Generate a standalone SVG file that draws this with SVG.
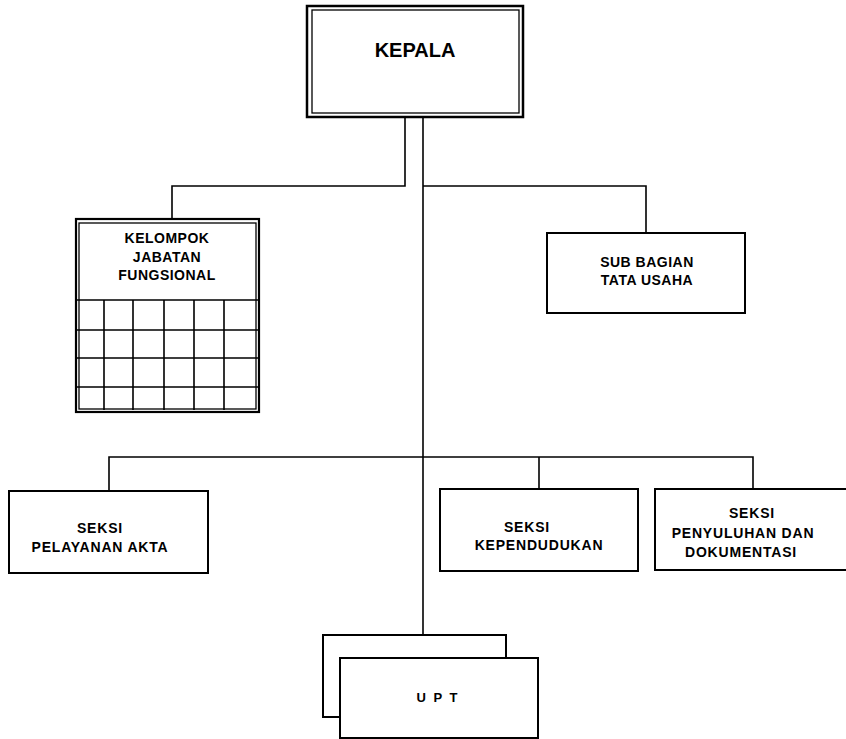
<svg xmlns="http://www.w3.org/2000/svg" width="846" height="739" viewBox="0 0 846 739">
<style>
.box{fill:#fff;stroke:#000;stroke-width:2}
.thin{fill:none;stroke:#000;stroke-width:1.3}
.ln{fill:none;stroke:#000;stroke-width:1.6}
text{font-family:"Liberation Sans",Arial,sans-serif;font-weight:bold;fill:#000;text-anchor:middle}
.t{font-size:14px;letter-spacing:0.8px}
</style>
<rect width="846" height="739" fill="#fff"/>
<g id="connectors">
<path class="ln" d="M405 117 V186 H172 V219"/>
<path class="ln" d="M423 117 V635"/>
<path class="ln" d="M423 186 H646 V233"/>
<path class="ln" d="M109 491 V457 H753 V489"/>
<path class="ln" d="M539 457 V489"/>
</g>
<g id="kepala">
<rect x="307" y="6" width="216" height="111" fill="#fff" stroke="#000" stroke-width="2.5"/>
<rect x="312" y="10" width="207" height="103" class="thin"/>
<text x="415" y="57" style="font-size:20px">KEPALA</text>
</g>
<g id="kelompok">
<rect x="76" y="219" width="183" height="193" fill="#fff" stroke="#000" stroke-width="2.2"/>
<rect x="79" y="223" width="177" height="186" class="thin"/>
<path class="ln" d="M77 300 H258 M77 330 H258 M77 358 H258 M77 387 H258 M104 300 V410 M133 300 V410 M164 300 V410 M194 300 V410 M224 300 V410"/>
<text x="167" y="243" style="font-size:14px;letter-spacing:0.5px">KELOMPOK</text>
<text x="167" y="262" style="font-size:14px;letter-spacing:0.5px">JABATAN</text>
<text x="167" y="280" style="font-size:14px;letter-spacing:0.5px">FUNGSIONAL</text>
</g>
<g id="subbagian">
<rect x="547" y="233" width="198" height="80" class="box"/>
<text x="647" y="267" class="t" style="letter-spacing:0.5px">SUB BAGIAN</text>
<text x="647" y="285" class="t" style="letter-spacing:0.5px">TATA USAHA</text>
</g>
<g id="pelayanan">
<rect x="9" y="491" width="199" height="82" class="box"/>
<text x="100" y="533" class="t">SEKSI</text>
<text x="100" y="552" class="t">PELAYANAN AKTA</text>
</g>
<g id="kependudukan">
<rect x="440" y="489" width="198" height="82" class="box"/>
<text x="527" y="532" class="t">SEKSI</text>
<text x="539" y="550" class="t">KEPENDUDUKAN</text>
</g>
<g id="penyuluhan">
<rect x="655" y="489" width="200" height="81" class="box"/>
<text x="752" y="518" class="t">SEKSI</text>
<text x="743" y="538" class="t">PENYULUHAN DAN</text>
<text x="741" y="557" class="t">DOKUMENTASI</text>
</g>
<g id="upt">
<rect x="323" y="635" width="183" height="82" class="box"/>
<rect x="340" y="658" width="198" height="80" class="box"/>
<text x="438" y="702" style="font-size:13px;letter-spacing:2px">U P T</text>
</g>
</svg>
